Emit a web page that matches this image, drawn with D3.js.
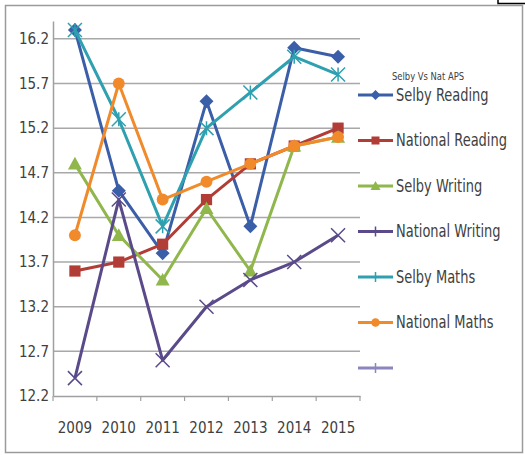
<!DOCTYPE html>
<html>
<head>
<meta charset="utf-8">
<script src="https://cdn.jsdelivr.net/npm/d3@7"></script>
<style>
body { margin: 0; background: #fff; }
text { font-family: "Liberation Sans Narrow", "DejaVu Sans Condensed", "Arial Narrow", sans-serif; fill: #404040; }
</style>
</head>
<body>
<div id="plot"></div>
<script>
years = ["2009", "2010", "2011", "2012", "2013", "2014", "2015"]
yTicks = [12.2, 12.7, 13.2, 13.7, 14.2, 14.7, 15.2, 15.7, 16.2]

selbyReading = [16.3, 14.5, 13.8, 15.5, 14.1, 16.1, 16.0]
nationalReading = [13.6, 13.7, 13.9, 14.4, 14.8, 15.0, 15.2]
selbyWriting = [14.8, 14.0, 13.5, 14.3, 13.6, 15.0, 15.1]
nationalWriting = [12.4, 14.4, 12.6, 13.2, 13.5, 13.7, 14.0]
selbyMaths = [16.3, 15.3, 14.1, 15.2, 15.6, 16.0, 15.8]
nationalMaths = [14.0, 15.7, 14.4, 14.6, 14.8, 15.0, 15.1]

series = [
  {name: "Selby Reading", values: selbyReading, color: "#3b5ea8", marker: "diamond"},
  {name: "National Reading", values: nationalReading, color: "#b23c36", marker: "square"},
  {name: "Selby Writing", values: selbyWriting, color: "#8fb74c", marker: "triangle"},
  {name: "National Writing", values: nationalWriting, color: "#5a4a8a", marker: "x"},
  {name: "Selby Maths", values: selbyMaths, color: "#2ea0b0", marker: "star"},
  {name: "National Maths", values: nationalMaths, color: "#f08a2b", marker: "circle"}
]

W = 525, H = 455

svg = d3.select("#plot").append("svg").attr("width", W).attr("height", H)

// outer frame
svg.append("rect").attr("x", 5.5).attr("y", 5.5).attr("width", W - 8).attr("height", H - 8)
  .attr("fill", "#fff").attr("stroke", "#9a9a9a").attr("stroke-width", 1.5)
svg.append("path").attr("d", "M498,0V3.5H525").attr("fill", "none").attr("stroke", "#000").attr("stroke-width", 1.5)

x = d3.scaleBand().domain(years).range([53, 360])
y = d3.scaleLinear().domain([12.2, 16.4]).range([396, 21])

// gridlines
svg.append("g").selectAll("line").data(yTicks.slice(1)).join("line")
  .attr("x1", 53).attr("x2", 360)
  .attr("y1", d => y(d)).attr("y2", d => y(d))
  .attr("stroke", "#a8a8a8").attr("stroke-width", 1.5)

// y axis
yAxis = svg.append("g").attr("transform", "translate(53,0)")
  .call(d3.axisLeft(y).tickValues(yTicks).tickFormat(d3.format(".1f")).tickSize(0).tickPadding(4))
yAxis.select(".domain").attr("stroke", "#a0a0a0").attr("stroke-width", 1.5)
yAxis.selectAll("text").attr("font-size", 15).attr("fill", "#404040")
  .style("font-family", '"Liberation Sans Narrow", "DejaVu Sans Condensed", sans-serif')

// x axis
xAxis = svg.append("g").attr("transform", "translate(0,396)")
  .call(d3.axisBottom(x).tickSize(0).tickPadding(26))
xAxis.select(".domain").attr("stroke", "#a0a0a0").attr("stroke-width", 1.5)
xAxis.selectAll("text").attr("font-size", 15).attr("fill", "#404040")
  .style("font-family", '"Liberation Sans Narrow", "DejaVu Sans Condensed", sans-serif')
svg.append("g").selectAll("line").data(years.concat(["end"])).join("line")
  .attr("x1", (d, i) => 53 + i * x.step()).attr("x2", (d, i) => 53 + i * x.step())
  .attr("y1", 396).attr("y2", 401).attr("stroke", "#a0a0a0").attr("stroke-width", 1.2)

cx = (d, i) => x(years[i]) + x.bandwidth() / 2

function drawMarker(g, type, color, size) {
  s = size
  if (type === "diamond") g.append("path").attr("d", `M0,${-s}L${s},0L0,${s}L${-s},0Z`).attr("fill", color)
  else if (type === "square") g.append("rect").attr("x", -s * 0.8).attr("y", -s * 0.8).attr("width", s * 1.6).attr("height", s * 1.6).attr("fill", color)
  else if (type === "triangle") g.append("path").attr("d", `M0,${-s}L${s},${s * 0.8}L${-s},${s * 0.8}Z`).attr("fill", color)
  else if (type === "circle") g.append("circle").attr("r", s * 0.85).attr("fill", color)
  else if (type === "x") g.append("path").attr("d", `M${-s},${-s}L${s},${s}M${s},${-s}L${-s},${s}`).attr("stroke", color).attr("stroke-width", 1.5)
  else if (type === "star") g.append("path").attr("d", `M${-s},${-s}L${s},${s}M${s},${-s}L${-s},${s}M0,${-s}V${s}`).attr("stroke", color).attr("stroke-width", 1.5)
  else if (type === "plus") g.append("path").attr("d", `M0,${-s}V${s}M${-s},0H${s}`).attr("stroke", color).attr("stroke-width", 1.5)
}

line = d3.line().x(cx).y(d => y(d))

series.forEach(s => {
  g = svg.append("g")
  g.append("path").datum(s.values).attr("d", line)
    .attr("fill", "none").attr("stroke", s.color).attr("stroke-width", 3).attr("stroke-linejoin", "round")
  s.values.forEach((v, i) => {
    m = g.append("g").attr("transform", `translate(${cx(v, i)},${y(v)})`)
    drawMarker(m, s.marker, s.color, 7)
  })
})

// legend
svg.append("text").attr("transform", "translate(428,80) scale(0.85,1)").attr("text-anchor", "middle")
  .attr("font-size", 11).attr("fill", "#303030").text("Selby Vs Nat APS")

legendItems = series.map(s => ({name: s.name, color: s.color, marker: s.marker}))
legendItems.push({name: "", color: "#8c86c0", marker: "plus"})
legendItems[3].marker = "plus"
legendItems[4].marker = "plus"

legendY = d3.scalePoint().domain(d3.range(legendItems.length)).range([95, 368])

leg = svg.append("g").selectAll("g").data(legendItems).join("g")
  .attr("transform", (d, i) => `translate(358,${legendY(i)})`)
leg.append("line").attr("x1", 0).attr("x2", 35).attr("stroke", d => d.color).attr("stroke-width", 3)
leg.each(function (d) {
  m = d3.select(this).append("g").attr("transform", "translate(17.5,0)")
  drawMarker(m, d.marker, d.color, 5)
})
leg.append("text").attr("transform", "translate(38,0) scale(0.85,1)").attr("dy", "0.35em").attr("font-size", 17)
  .attr("fill", "#404040").text(d => d.name)
</script>
</body>
</html>
